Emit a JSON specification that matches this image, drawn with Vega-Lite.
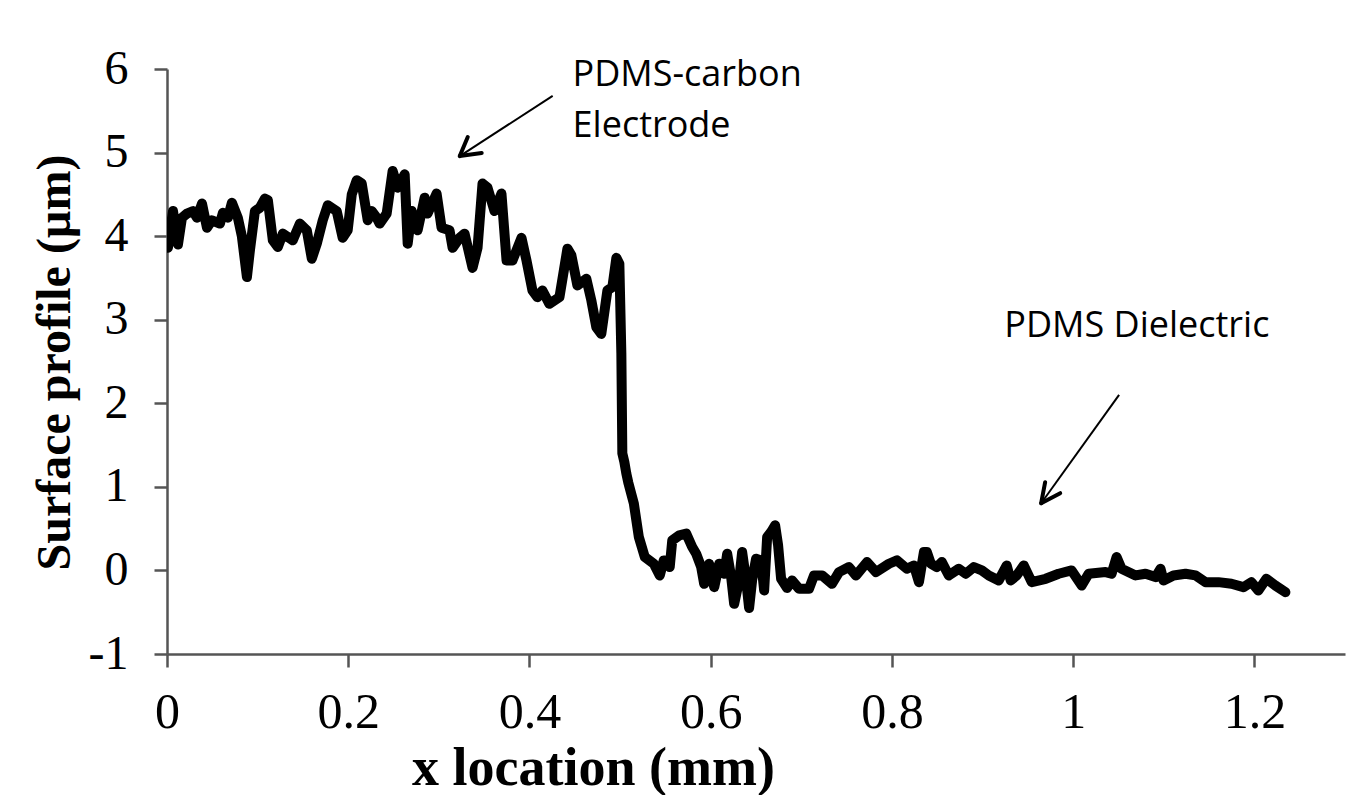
{
  "$schema": "https://vega.github.io/schema/vega-lite/v6.json",
  "width": 1178,
  "height": 585,
  "autosize": {"type": "none"},
  "padding": {"left": 167, "top": 69, "right": 4, "bottom": 141},
  "background": "white",
  "config": {"view": {"stroke": null}},
  "datasets": {
    "profile": [
      {"x":0.001,"y":3.86},{"x":0.0066,"y":4.30},{"x":0.0121,"y":3.90},{"x":0.0165,"y":4.22},{"x":0.022,"y":4.27},{"x":0.0287,"y":4.30},{"x":0.0331,"y":4.22},{"x":0.0386,"y":4.39},{"x":0.0441,"y":4.10},{"x":0.0496,"y":4.19},{"x":0.0584,"y":4.15},{"x":0.0617,"y":4.28},{"x":0.0672,"y":4.22},{"x":0.0716,"y":4.40},{"x":0.0782,"y":4.22},{"x":0.0826,"y":4.00},{"x":0.0882,"y":3.51},{"x":0.0915,"y":3.83},{"x":0.097,"y":4.30},{"x":0.1025,"y":4.34},{"x":0.108,"y":4.45},{"x":0.1113,"y":4.43},{"x":0.1168,"y":3.95},{"x":0.1223,"y":3.87},{"x":0.1278,"y":4.03},{"x":0.1388,"y":3.95},{"x":0.1466,"y":4.15},{"x":0.1543,"y":4.07},{"x":0.1598,"y":3.73},{"x":0.1653,"y":3.91},{"x":0.1719,"y":4.19},{"x":0.1774,"y":4.37},{"x":0.1873,"y":4.30},{"x":0.1939,"y":3.98},{"x":0.1994,"y":4.07},{"x":0.2039,"y":4.50},{"x":0.2094,"y":4.67},{"x":0.2149,"y":4.63},{"x":0.2215,"y":4.19},{"x":0.2259,"y":4.30},{"x":0.2314,"y":4.22},{"x":0.2347,"y":4.15},{"x":0.2424,"y":4.27},{"x":0.249,"y":4.78},{"x":0.2545,"y":4.58},{"x":0.2623,"y":4.74},{"x":0.2656,"y":3.91},{"x":0.27,"y":4.30},{"x":0.2766,"y":4.07},{"x":0.2843,"y":4.46},{"x":0.2876,"y":4.27},{"x":0.2975,"y":4.51},{"x":0.303,"y":4.10},{"x":0.3118,"y":4.07},{"x":0.3152,"y":3.86},{"x":0.3229,"y":3.98},{"x":0.3284,"y":4.03},{"x":0.3372,"y":3.62},{"x":0.3427,"y":3.86},{"x":0.3482,"y":4.63},{"x":0.3537,"y":4.58},{"x":0.3614,"y":4.30},{"x":0.3691,"y":4.51},{"x":0.3747,"y":3.71},{"x":0.3813,"y":3.71},{"x":0.3912,"y":3.98},{"x":0.3967,"y":3.71},{"x":0.4033,"y":3.35},{"x":0.4088,"y":3.27},{"x":0.4143,"y":3.35},{"x":0.422,"y":3.19},{"x":0.4331,"y":3.27},{"x":0.4419,"y":3.85},{"x":0.4463,"y":3.77},{"x":0.4529,"y":3.41},{"x":0.4628,"y":3.49},{"x":0.4683,"y":3.23},{"x":0.4738,"y":2.91},{"x":0.4793,"y":2.83},{"x":0.486,"y":3.35},{"x":0.4915,"y":3.39},{"x":0.4959,"y":3.74},{"x":0.4992,"y":3.67},{"x":0.5014,"y":2.6},{"x":0.5025,"y":1.4},{"x":0.5047,"y":1.3},{"x":0.5069,"y":1.16},{"x":0.5091,"y":1.05},{"x":0.5152,"y":0.80},{"x":0.5207,"y":0.40},{"x":0.5273,"y":0.16},{"x":0.5372,"y":0.08},{"x":0.5438,"y":-0.06},{"x":0.5482,"y":0.12},{"x":0.5548,"y":0.04},{"x":0.5576,"y":0.36},{"x":0.5653,"y":0.42},{"x":0.573,"y":0.44},{"x":0.5796,"y":0.28},{"x":0.584,"y":0.20},{"x":0.5895,"y":0.04},{"x":0.5928,"y":-0.16},{"x":0.5983,"y":0.08},{"x":0.6039,"y":-0.20},{"x":0.6094,"y":0.08},{"x":0.6149,"y":-0.04},{"x":0.6182,"y":0.20},{"x":0.6226,"y":-0.08},{"x":0.6259,"y":-0.40},{"x":0.6314,"y":-0.12},{"x":0.6347,"y":0.22},{"x":0.6391,"y":-0.12},{"x":0.6424,"y":-0.45},{"x":0.6457,"y":-0.12},{"x":0.6501,"y":0.14},{"x":0.6556,"y":0.12},{"x":0.659,"y":-0.24},{"x":0.6623,"y":0.40},{"x":0.6667,"y":0.46},{"x":0.6711,"y":0.54},{"x":0.6744,"y":0.30},{"x":0.6777,"y":-0.10},{"x":0.6843,"y":-0.21},{"x":0.6898,"y":-0.12},{"x":0.6975,"y":-0.22},{"x":0.7085,"y":-0.22},{"x":0.714,"y":-0.06},{"x":0.7229,"y":-0.06},{"x":0.7339,"y":-0.16},{"x":0.7416,"y":-0.02},{"x":0.7526,"y":0.04},{"x":0.7603,"y":-0.06},{"x":0.7725,"y":0.10},{"x":0.7824,"y":-0.02},{"x":0.7967,"y":0.08},{"x":0.8055,"y":0.12},{"x":0.8165,"y":0.02},{"x":0.8242,"y":0.06},{"x":0.8298,"y":-0.14},{"x":0.8353,"y":0.22},{"x":0.8386,"y":0.22},{"x":0.843,"y":0.08},{"x":0.8496,"y":0.04},{"x":0.8551,"y":0.10},{"x":0.8628,"y":-0.06},{"x":0.8738,"y":0.02},{"x":0.8815,"y":-0.04},{"x":0.8904,"y":0.04},{"x":0.8992,"y":0.00},{"x":0.9069,"y":-0.06},{"x":0.9179,"y":-0.12},{"x":0.9267,"y":0.06},{"x":0.9311,"y":-0.12},{"x":0.9377,"y":-0.06},{"x":0.9455,"y":0.06},{"x":0.9543,"y":-0.14},{"x":0.9697,"y":-0.10},{"x":0.984,"y":-0.04},{"x":0.9983,"y":0.00},{"x":1.0094,"y":-0.18},{"x":1.0171,"y":-0.04},{"x":1.0358,"y":-0.02},{"x":1.0424,"y":-0.04},{"x":1.0479,"y":0.16},{"x":1.0534,"y":0.02},{"x":1.0689,"y":-0.06},{"x":1.0799,"y":-0.04},{"x":1.0909,"y":-0.08},{"x":1.0964,"y":0.02},{"x":1.0997,"y":-0.12},{"x":1.1107,"y":-0.06},{"x":1.124,"y":-0.04},{"x":1.135,"y":-0.06},{"x":1.146,"y":-0.14},{"x":1.1603,"y":-0.14},{"x":1.1747,"y":-0.16},{"x":1.1879,"y":-0.20},{"x":1.1967,"y":-0.14},{"x":1.2044,"y":-0.24},{"x":1.2132,"y":-0.10},{"x":1.2231,"y":-0.18},{"x":1.2342,"y":-0.26}
    ],
    "shafts": [
      {"x":0.4256,"y":5.678,"x2":0.3231,"y2":4.958},
      {"x":1.0507,"y":2.101,"x2":0.9647,"y2":0.804}
    ],
    "heads": [
      {"x":0.3231,"y":4.958,"x2":0.3473,"y2":4.994},
      {"x":0.3231,"y":4.958,"x2":0.3319,"y2":5.186},
      {"x":0.9647,"y":0.804,"x2":0.9857,"y2":0.924},
      {"x":0.9647,"y":0.804,"x2":0.9691,"y2":1.056}
    ],
    "notes": [
      {"x":0.4476,"y":5.798,"text":"PDMS-carbon"},
      {"x":0.4476,"y":5.186,"text":"Electrode"},
      {"x":0.924,"y":2.797,"text":"PDMS Dielectric"}
    ]
  },
  "layer": [
    {
      "data": {"name": "profile"},
      "mark": {"type": "line", "color": "black", "strokeWidth": 10, "strokeJoin": "round", "strokeCap": "round", "clip": true},
      "encoding": {
        "x": {
          "field": "x", "type": "quantitative",
          "scale": {"domain": [0, 1.3], "nice": false, "zero": false},
          "axis": {
            "title": "x location (mm)",
            "values": [0, 0.2, 0.4, 0.6, 0.8, 1, 1.2],
            "format": "~g",
            "grid": false,
            "domainColor": "#555555", "domainWidth": 2.5,
            "tickColor": "#555555", "tickWidth": 2.5, "tickSize": 13,
            "labelFont": "Liberation Serif", "labelFontSize": 50, "labelColor": "black",
            "labelPadding": 20, "labelFlush": false, "labelOverlap": false,
            "titleFont": "Liberation Serif", "titleFontSize": 54, "titleFontWeight": "bold", "titleColor": "black",
            "titleX": 426, "titleY": 130, "titleBaseline": "alphabetic", "titleAlign": "center"
          }
        },
        "y": {
          "field": "y", "type": "quantitative",
          "scale": {"domain": [-1, 6], "nice": false, "zero": false},
          "axis": {
            "title": "Surface profile (µm)",
            "values": [-1, 0, 1, 2, 3, 4, 5, 6],
            "format": "d",
            "labelExpr": "replace(datum.label, '−', '-')",
            "grid": false,
            "domainColor": "#555555", "domainWidth": 2.5,
            "tickColor": "#555555", "tickWidth": 2.5, "tickSize": 13,
            "labelFont": "Liberation Serif", "labelFontSize": 48, "labelColor": "black",
            "labelPadding": 26, "labelFlush": false, "labelOverlap": false,
            "titleFont": "Liberation Serif", "titleFontSize": 48, "titleFontWeight": "bold", "titleColor": "black",
            "titleX": -98, "titleY": 293, "titleBaseline": "alphabetic", "titleAlign": "center", "titleAngle": -90
          }
        }
      }
    },
    {
      "data": {"name": "shafts"},
      "mark": {"type": "rule", "color": "black", "strokeWidth": 2},
      "encoding": {
        "x": {"field": "x", "type": "quantitative"},
        "y": {"field": "y", "type": "quantitative"},
        "x2": {"field": "x2"},
        "y2": {"field": "y2"}
      }
    },
    {
      "data": {"name": "heads"},
      "mark": {"type": "rule", "color": "black", "strokeWidth": 4, "strokeCap": "round"},
      "encoding": {
        "x": {"field": "x", "type": "quantitative"},
        "y": {"field": "y", "type": "quantitative"},
        "x2": {"field": "x2"},
        "y2": {"field": "y2"}
      }
    },
    {
      "data": {"name": "notes"},
      "mark": {"type": "text", "font": "Open Sans", "fontSize": 36, "align": "left", "baseline": "alphabetic", "color": "black"},
      "encoding": {
        "x": {"field": "x", "type": "quantitative"},
        "y": {"field": "y", "type": "quantitative"},
        "text": {"field": "text"}
      }
    }
  ]
}
